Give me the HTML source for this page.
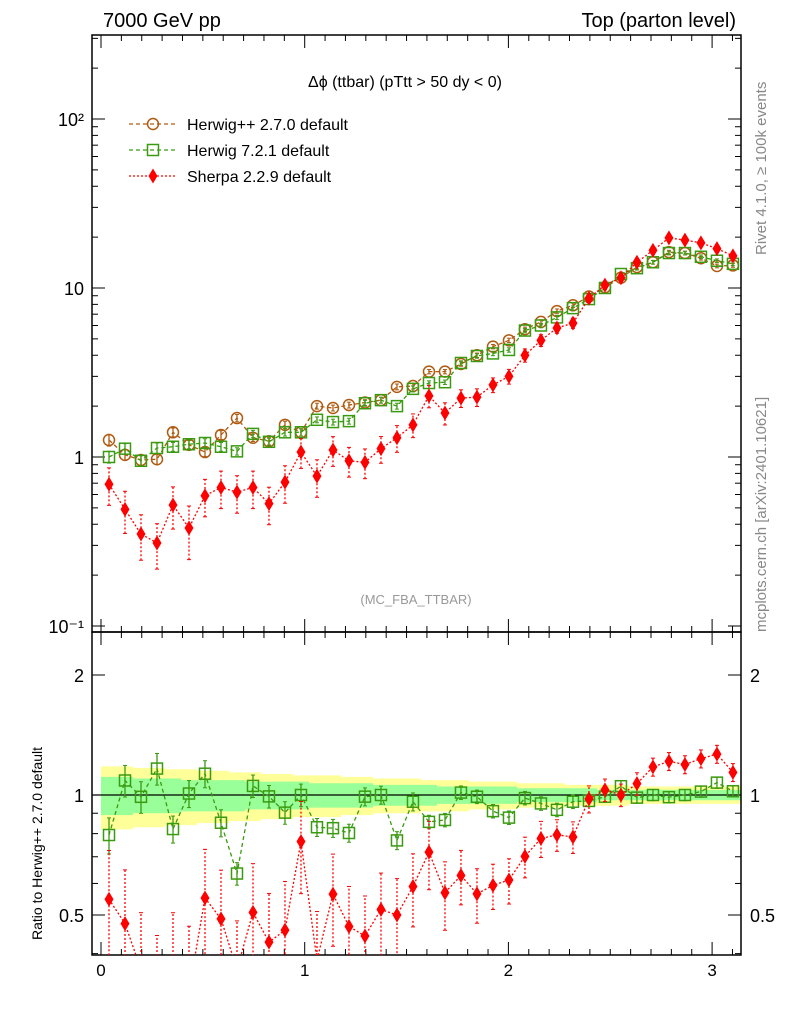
<!DOCTYPE html>
<html><head><meta charset="utf-8"><style>
html,body{margin:0;padding:0;background:#fff;overflow:hidden;width:786px;height:1024px;}
svg{display:block;}
svg text{font-family:"Liberation Sans",sans-serif;}
</style></head><body>
<svg id="c" width="786" height="1024" xmlns="http://www.w3.org/2000/svg">
<defs>
<clipPath id="cm"><rect x="92" y="35" width="649" height="597"/></clipPath>
<clipPath id="cr"><rect x="92" y="632" width="649" height="323"/></clipPath>
</defs>
<text x="103" y="27" font-size="20">7000 GeV pp</text>
<text x="736" y="27" font-size="20" text-anchor="end">Top (parton level)</text>
<text x="308" y="87" font-size="16">Δϕ (ttbar) (pTtt &gt; 50 dy &lt; 0)</text>
<text x="416" y="604" font-size="13" fill="#999" text-anchor="middle">(MC_FBA_TTBAR)</text>
<text transform="translate(766,255) rotate(-90)" font-size="15" fill="#888">Rivet 4.1.0, ≥ 100k events</text>
<text transform="translate(766,632) rotate(-90)" font-size="15" fill="#888">mcplots.cern.ch [arXiv:2401.10621]</text>
<text transform="translate(42,940) rotate(-90)" font-size="14">Ratio to Herwig++ 2.7.0 default</text>
<g id="bands" clip-path="url(#cr)"></g>
<g id="main"></g>
<g id="legend"></g>
<rect x="92" y="35" width="649" height="597" fill="none" stroke="#000" stroke-width="1.5"/>
<rect x="92" y="632" width="649" height="323" fill="none" stroke="#000" stroke-width="1.5"/>
</svg>
<script>
const herwigpp=[1.26,1.03,0.96,0.97,1.4,1.18,1.07,1.35,1.7,1.3,1.24,1.55,1.4,2.0,1.95,2.03,2.1,2.17,2.6,2.63,3.2,3.2,3.55,4.0,4.5,4.9,5.7,6.3,7.3,7.9,8.9,10.1,11.5,13.3,14.2,16.3,16.1,15.0,13.5,13.6];
const herwig7=[1.0,1.12,0.95,1.13,1.15,1.19,1.21,1.15,1.08,1.37,1.23,1.4,1.4,1.66,1.61,1.63,2.08,2.17,2.0,2.53,2.74,2.77,3.6,3.96,4.1,4.3,5.6,6.0,6.7,7.6,8.6,10.0,12.1,13.1,14.2,16.1,16.1,15.3,14.5,13.9];
const sherpa=[0.69,0.49,0.35,0.31,0.52,0.38,0.59,0.66,0.62,0.66,0.53,0.71,1.07,0.77,1.1,0.95,0.93,1.12,1.3,1.55,2.3,1.82,2.23,2.26,2.67,3.0,4.0,4.9,5.8,6.2,8.7,10.4,11.5,14.2,16.7,19.8,19.2,18.5,17.1,15.5];
const relErrH=[0.08,0.07,0.07,0.07,0.06,0.06,0.06,0.06,0.05,0.05,0.05,0.05,0.05,0.04,0.04,0.04,0.04,0.04,0.04,0.04,0.03,0.03,0.03,0.03,0.03,0.03,0.03,0.03,0.03,0.03,0.025,0.025,0.025,0.025,0.025,0.025,0.025,0.025,0.025,0.025];
const relErrS=[0.25,0.28,0.3,0.3,0.28,0.35,0.25,0.25,0.25,0.25,0.25,0.25,0.2,0.25,0.2,0.2,0.2,0.18,0.18,0.16,0.15,0.15,0.12,0.12,0.1,0.1,0.09,0.08,0.07,0.07,0.06,0.05,0.05,0.05,0.04,0.04,0.04,0.04,0.04,0.04];
const bandYellow=[0.18,0.18,0.17,0.17,0.16,0.16,0.15,0.15,0.14,0.14,0.13,0.13,0.12,0.12,0.12,0.11,0.11,0.1,0.1,0.1,0.09,0.09,0.09,0.08,0.08,0.08,0.07,0.07,0.07,0.06,0.06,0.06,0.06,0.05,0.05,0.05,0.05,0.05,0.05,0.05];
const bandGreen=[0.11,0.11,0.1,0.1,0.1,0.09,0.09,0.09,0.09,0.08,0.08,0.08,0.08,0.07,0.07,0.07,0.07,0.06,0.06,0.06,0.06,0.05,0.05,0.05,0.05,0.05,0.04,0.04,0.04,0.04,0.04,0.03,0.03,0.03,0.03,0.03,0.03,0.03,0.03,0.03];
const xTicks=[0,1,2,3];
const yTicks=[{v:0.1,l:"10"+"\u207B\u00B9"},{v:1,l:"1"},{v:10,l:"10"},{v:100,l:"10\u00B2"}];
const rTicks=[0.5,1,2];

const NS="http://www.w3.org/2000/svg";
const N=herwigpp.length, BW=Math.PI/N;
const X=v=>101+v*203.7;
const Y=v=>457-169*Math.log10(v);
const R=v=>795-120*Math.log2(v);
function mk(tag,attrs,parent){const e=document.createElementNS(NS,tag);for(const k in attrs)e.setAttribute(k,attrs[k]);parent.appendChild(e);return e;}
const svg=document.getElementById('c');
const bands=document.getElementById('bands');

let yp="",gp="",yb="",gb="";
for(let i=0;i<N;i++){const x0=X(i*BW),x1=X((i+1)*BW);
 yp+=`L${x0},${R(1+bandYellow[i])}L${x1},${R(1+bandYellow[i])}`;
 yb=`L${x1},${R(1-bandYellow[i])}L${x0},${R(1-bandYellow[i])}`+yb;
 gp+=`L${x0},${R(1+bandGreen[i])}L${x1},${R(1+bandGreen[i])}`;
 gb=`L${x1},${R(1-bandGreen[i])}L${x0},${R(1-bandGreen[i])}`+gb;}
let e=mk('path',{d:'M'+yp.slice(1)+yb+'Z',fill:'#ffff99'},bands);


e=mk('path',{d:'M'+gp.slice(1)+gb+'Z',fill:'#99ff99'},bands);


e=mk('line',{x1:92,x2:741,y1:R(1),y2:R(1),stroke:'#000','stroke-width':1.3},svg);



const tg=mk('g',{stroke:'#000','stroke-width':1},svg);
for(let k=0;k<=31;k++){const v=k/10;const big=k%10==0;const L=big?13:6;const x=X(v);
 mk('line',{x1:x,x2:x,y1:35,y2:35+L},tg);mk('line',{x1:x,x2:x,y1:632,y2:632-L},tg);
 mk('line',{x1:x,x2:x,y1:632,y2:632+L},tg);mk('line',{x1:x,x2:x,y1:955,y2:955-L},tg);}
xTicks.forEach(v=>{e=mk('text',{x:X(v),y:976,'font-size':17,'text-anchor':'middle'},svg);e.textContent=v;
 
 });
for(let d=-2;d<=2;d++)for(let m=1;m<10;m++){const v=m*Math.pow(10,d);const y=Y(v);if(y<35||y>632)continue;const L=m==1?13:6;
 mk('line',{x1:92,x2:92+L,y1:y,y2:y},tg);mk('line',{x1:741,x2:741-L,y1:y,y2:y},tg);}
yTicks.forEach(t=>{e=mk('text',{x:84,y:Y(t.v)+7,'font-size':18,'text-anchor':'end'},svg);e.textContent=t.l;
 
 });
[0.4,0.5,0.6,0.7,0.8,0.9,1,2].forEach(v=>{const y=R(v);const big=(v==0.5||v==1||v==2);const L=big?13:6;
 mk('line',{x1:92,x2:92+L,y1:y,y2:y},tg);mk('line',{x1:741,x2:741-L,y1:y,y2:y},tg);});
rTicks.forEach(v=>{e=mk('text',{x:84,y:R(v)+7,'font-size':18,'text-anchor':'end'},svg);e.textContent=v;
 
 
 e=mk('text',{x:750,y:R(v)+7,'font-size':18},svg);e.textContent=v;
 
 });

function marker(g,type,x,y,col){
 if(type=='c')mk('circle',{cx:x,cy:y,r:5.5,fill:'none',stroke:col,'stroke-width':1.5},g);
 else if(type=='s')mk('rect',{x:x-5.5,y:y-5.5,width:11,height:11,fill:'none',stroke:col,'stroke-width':1.5},g);
 else mk('path',{d:`M${x},${y-7.5}L${x+4.5},${y}L${x},${y+7.5}L${x-4.5},${y}Z`,fill:col},g);}
function series(vals,err,col,dash,type,name,ratio){
 const g=mk('g',{'clip-path':ratio?'url(#cr)':'url(#cm)'},svg);
 
 
 const pts=[];
 for(let i=0;i<N;i++){const x=X((i+0.5)*BW);let v=vals[i];let er=err[i];if(ratio){v=v/herwigpp[i];er=er*1.3;}
  const f=ratio?R:Y;const y=f(v);pts.push([x,y]);
  const lo=Math.min(f(v*Math.max(0.01,1-er)),1000),hi=f(v*(1+er));
  mk('line',{x1:x,x2:x,y1:lo,y2:hi,stroke:col,'stroke-width':1.3,'stroke-dasharray':type=='d'?'2,2':'none'},g);
  mk('line',{x1:x-2,x2:x+2,y1:lo,y2:lo,stroke:col},g);mk('line',{x1:x-2,x2:x+2,y1:hi,y2:hi,stroke:col},g);}
 mk('path',{d:'M'+pts.map(p=>p.join(',')).join('L'),fill:'none',stroke:col,'stroke-width':1.3,'stroke-dasharray':dash},g);
 pts.forEach(p=>marker(g,type,p[0],p[1],col));}
series(herwigpp,relErrH,'#b05a10','4,3','c','herwigpp-series',false);
series(herwig7,relErrH,'#3a9a10','4,3','s','herwig7-series',false);
series(sherpa,relErrS,'#ff0000','2,2','d','sherpa-series',false);
series(herwig7,relErrH,'#3a9a10','4,3','s','herwig7-ratio',true);
series(sherpa,relErrS,'#ff0000','2,2','d','sherpa-ratio',true);

const leg=document.getElementById('legend');
[['Herwig++ 2.7.0 default','#b05a10','4,3','c'],['Herwig 7.2.1 default','#3a9a10','4,3','s'],['Sherpa 2.2.9 default','#ff0000','2,2','d']].forEach((l,i)=>{
 const y=124+i*26;const g=mk('g',{},leg);
 
 
 mk('line',{x1:129,x2:177,y1:y,y2:y,stroke:l[1],'stroke-width':1.3,'stroke-dasharray':l[2]},g);
 marker(g,l[3],153,y,l[1]);
 const t=mk('text',{x:187,y:y+6,'font-size':16},g);t.textContent=l[0];});
</script>
</body></html>
